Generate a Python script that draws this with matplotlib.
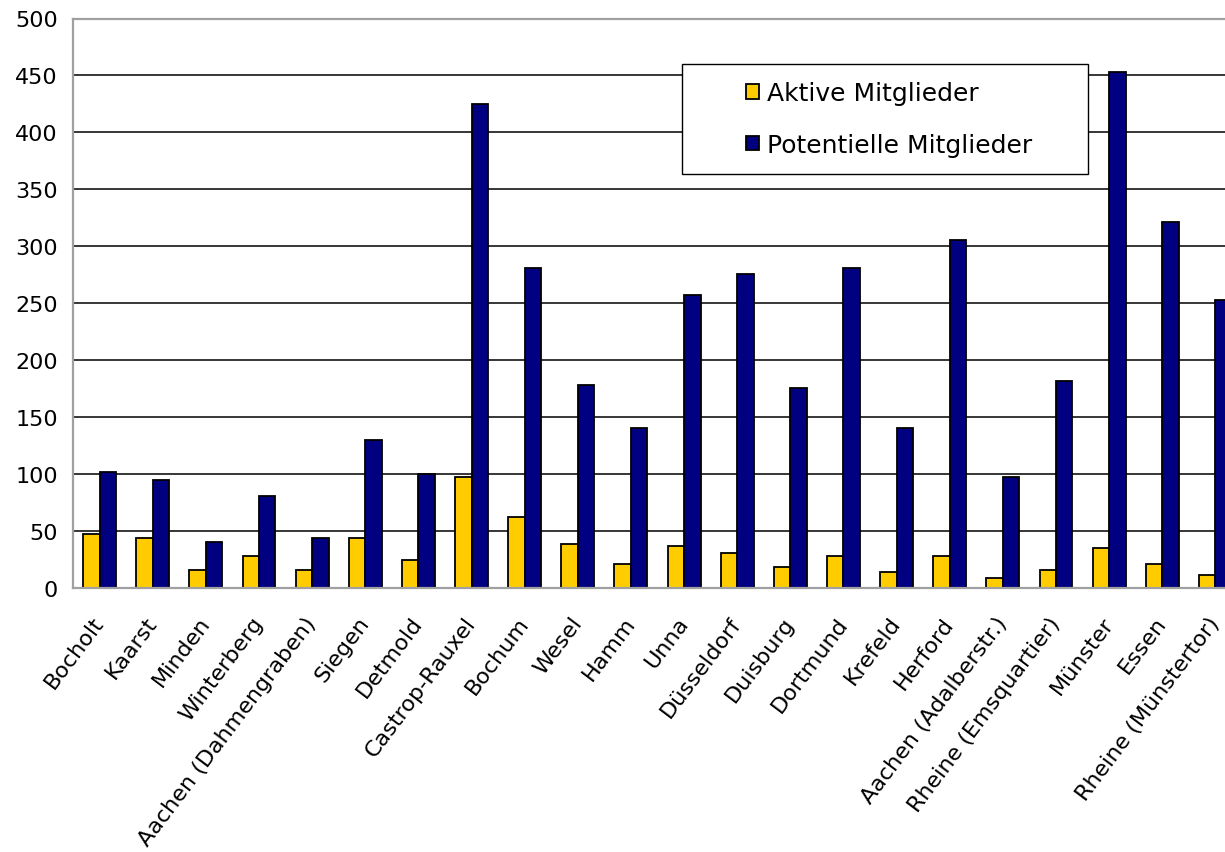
import numpy as np
import matplotlib
matplotlib.use("Agg")
import matplotlib.pyplot as plt
from matplotlib.patches import Rectangle

# Mitglieder je Standort
standorte = [
    "Bocholt", "Kaarst", "Minden", "Winterberg", "Aachen (Dahmengraben)",
    "Siegen", "Detmold", "Castrop-Rauxel", "Bochum", "Wesel", "Hamm", "Unna",
    "Düsseldorf", "Duisburg", "Dortmund", "Krefeld", "Herford",
    "Aachen (Adalberstr.)", "Rheine (Emsquartier)", "Münster", "Essen",
    "Rheine (Münstertor)",
]
aktive = [48, 44, 16, 28, 16, 44, 25, 98, 63, 39, 21, 37,
          31, 19, 28, 14, 28, 9, 16, 35, 21, 12]
potentielle = [102, 95, 41, 81, 44, 130, 100, 425, 281, 178, 141, 257,
               276, 176, 281, 141, 306, 98, 182, 453, 321, 253]
y_ticks = [0, 50, 100, 150, 200, 250, 300, 350, 400, 450, 500]

W, H = 1225, 853
fig = plt.figure(figsize=(W / 100, H / 100), dpi=100)
plt.rcParams["font.family"] = "DejaVu Sans"

# plot area runs past the right edge of the figure
left_px, right_px, top_px, bottom_px = 73, 1242, 19.5, 589.3
ax = fig.add_axes([left_px / W, 1 - bottom_px / H,
                   (right_px - left_px) / W, (bottom_px - top_px) / H])

x = np.arange(len(standorte))
bw = 0.31
ax.bar(x - bw / 2, aktive, bw, color="#FFCC00", edgecolor="black",
       linewidth=1.3, label="Aktive Mitglieder", zorder=2)
ax.bar(x + bw / 2, potentielle, bw, color="#000080", edgecolor="black",
       linewidth=1.3, label="Potentielle Mitglieder", zorder=2)

ax.set_xlim(-0.5, len(standorte) - 0.5)
ax.set_ylim(0, 500)
ax.set_yticks(y_ticks)
ax.yaxis.grid(True, color="black", linewidth=1.1)
ax.set_axisbelow(True)

for side in ["left", "bottom", "top", "right"]:
    ax.spines[side].set_color("#A0A0A0")
    ax.spines[side].set_linewidth(1.6)

ax.tick_params(axis="y", length=0, pad=11, labelsize=16)
ax.tick_params(axis="x", length=0, pad=22, labelsize=16)
ax.set_xticks(x)
ax.set_xticklabels(standorte, rotation=53, ha="right", va="center",
                   rotation_mode="anchor")

# legend box
bx0, by0, bx1, by1 = 681.7, 65.3, 1087.7, 175.3
ax.add_patch(Rectangle((bx0 / W, 1 - by1 / H), (bx1 - bx0) / W, (by1 - by0) / H,
                       transform=fig.transFigure, facecolor="white",
                       edgecolor="black", linewidth=1.0, clip_on=False,
                       zorder=4))
leg = ax.legend(loc="center", bbox_to_anchor=(889 / W, 1 - 120 / H),
                bbox_transform=fig.transFigure, frameon=False, fontsize=18,
                handlelength=0.52, handleheight=0.52, handletextpad=0.35,
                labelspacing=1.1)
leg.set_zorder(5)

fig.savefig("out.png", dpi=100)
